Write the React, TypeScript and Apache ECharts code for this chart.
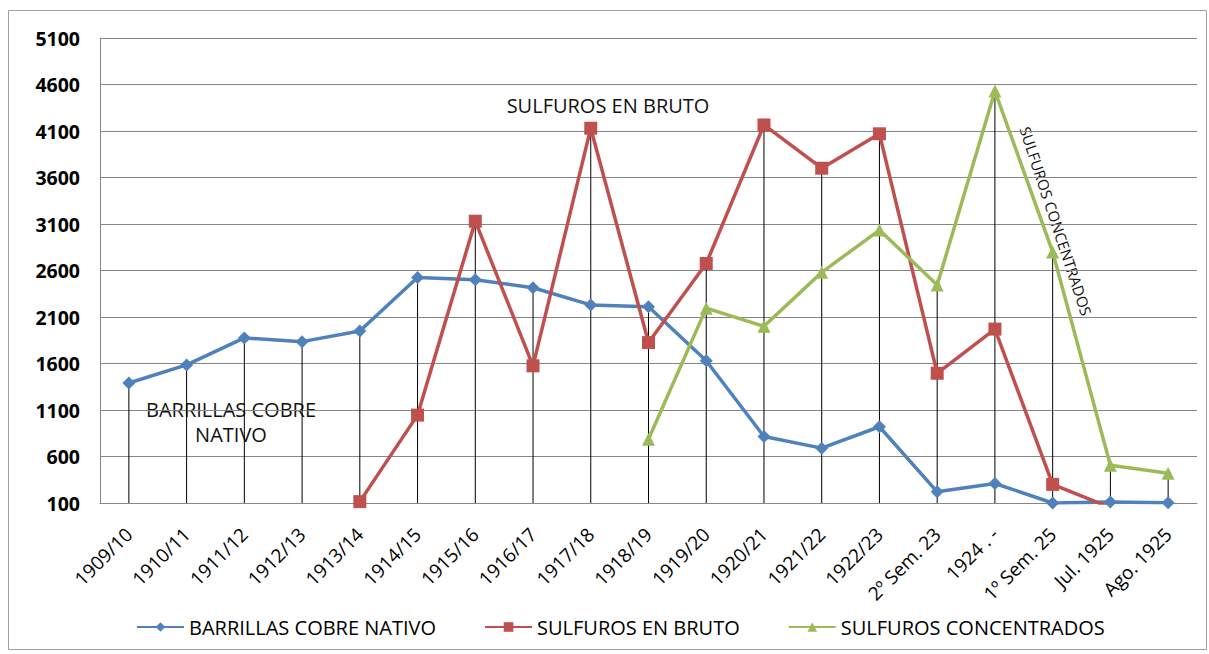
import React, { useEffect, useRef } from "react";
import * as echarts from "echarts";

// Production per campaign (categories along the x axis)
const categories = [
  "1909/10",
  "1910/11",
  "1911/12",
  "1912/13",
  "1913/14",
  "1914/15",
  "1915/16",
  "1916/17",
  "1917/18",
  "1918/19",
  "1919/20",
  "1920/21",
  "1921/22",
  "1922/23",
  "2º Sem. 23",
  "1924 . -",
  "1º Sem. 25",
  "Jul. 1925",
  "Ago. 1925",
];

const barrillasCobreNativo = [
  1390, 1585, 1875, 1835, 1950, 2525, 2500, 2415, 2230, 2210, 1630, 815, 690,
  920, 220, 310, 100, 112, 104,
];

const sulfurosEnBruto = [
  null, null, null, null, 115, 1045, 3130, 1575, 4130, 1825, 2675, 4165, 3700,
  4070, 1495, 1970, 300, 50, null,
];

const sulfurosConcentrados = [
  null, null, null, null, null, null, null, null, null, 785, 2195, 2000, 2580,
  3035, 2445, 4530, 2800, 505, 420,
];

// Value axis tick labels
const yTickLabels = [100, 600, 1100, 1600, 2100, 2600, 3100, 3600, 4100, 4600, 5100];

const FONT = "'Open Sans', 'DejaVu Sans', sans-serif";

export default function App() {
  const ref = useRef<HTMLDivElement>(null);

  useEffect(() => {
    if (!ref.current) return;
    const chart = echarts.init(ref.current, undefined, { renderer: "svg" });

    // Highest value at each category: drop lines run from it down to the axis
    const dropTops = categories.map((_, i) => {
      const vals = [barrillasCobreNativo[i], sulfurosEnBruto[i], sulfurosConcentrados[i]].filter(
        (v) => v !== null && v !== undefined
      ) as number[];
      return [i, Math.max(...vals)];
    });

    const yMin = yTickLabels[0];
    const yMax = yTickLabels[yTickLabels.length - 1];
    const yStep = yTickLabels[1] - yTickLabels[0];

    const annotation = (text: string, x: number, y: number, size: number, rotation = 0) => ({
      type: "text",
      x,
      y,
      rotation,
      silent: true,
      style: {
        text,
        fontFamily: FONT,
        fontSize: size,
        fill: "#111",
        align: "center",
        verticalAlign: "middle",
      },
    });

    chart.setOption({
      animation: false,
      backgroundColor: "#ffffff",
      grid: { left: 100, right: 12, top: 38, bottom: 151, containLabel: false },
      xAxis: {
        type: "category",
        data: categories,
        boundaryGap: true,
        axisLine: { show: true, lineStyle: { color: "#868686", width: 1 } },
        axisTick: { show: false },
        axisLabel: {
          rotate: 45,
          interval: 0,
          margin: 28,
          color: "#000",
          fontFamily: FONT,
          fontSize: 19,
        },
        splitLine: { show: false },
      },
      yAxis: {
        type: "value",
        min: yMin,
        max: yMax,
        interval: yStep,
        axisLine: { show: true, lineStyle: { color: "#868686", width: 1 } },
        axisTick: { show: false },
        axisLabel: {
          margin: 20,
          color: "#000",
          fontFamily: FONT,
          fontWeight: "bold",
          fontSize: 19.5,
          formatter: (v: number) => String(v),
        },
        splitLine: { show: true, lineStyle: { color: "#868686", width: 1 } },
      },
      legend: {
        data: ["BARRILLAS COBRE NATIVO", "SULFUROS EN BRUTO", "SULFUROS CONCENTRADOS"],
        left: 136,
        top: 617,
        padding: 0,
        itemWidth: 47,
        itemHeight: 12,
        itemGap: 48,
        textStyle: { color: "#000", fontFamily: FONT, fontSize: 20 },
      },
      graphic: [
        {
          type: "rect",
          silent: true,
          shape: { x: 8.5, y: 10.5, width: 1198, height: 639 },
          style: { fill: "none", stroke: "#a0a0a0", lineWidth: 1 },
          z: -10,
        },
        annotation("SULFUROS EN BRUTO", 608, 105, 20),
        annotation("BARRILLAS COBRE", 231, 409, 20),
        annotation("NATIVO", 231, 434, 20),
        annotation("SULFUROS CONCENTRADOS", 1056, 221, 15, -1.25),
      ],
      series: [
        {
          name: "drop",
          type: "custom",
          z: 1,
          silent: true,
          data: dropTops,
          renderItem: (_params: any, api: any) => {
            const top = api.coord([api.value(0), api.value(1)]);
            const bottom = api.coord([api.value(0), yMin]);
            return {
              type: "line",
              shape: { x1: top[0], y1: top[1], x2: bottom[0], y2: bottom[1] },
              style: { stroke: "#000", lineWidth: 1 },
            };
          },
        },
        {
          name: "BARRILLAS COBRE NATIVO",
          type: "line",
          z: 3,
          data: barrillasCobreNativo,
          symbol: "diamond",
          symbolSize: 13,
          lineStyle: { color: "#4F81BD", width: 3.5 },
          itemStyle: { color: "#4F81BD" },
        },
        {
          name: "SULFUROS EN BRUTO",
          type: "line",
          z: 4,
          data: sulfurosEnBruto,
          symbol: "rect",
          symbolSize: 13,
          lineStyle: { color: "#C0504D", width: 3.5 },
          itemStyle: { color: "#C0504D" },
        },
        {
          name: "SULFUROS CONCENTRADOS",
          type: "line",
          z: 5,
          data: sulfurosConcentrados,
          symbol: "triangle",
          symbolSize: 13,
          lineStyle: { color: "#9BBB59", width: 3.5 },
          itemStyle: { color: "#9BBB59" },
        },
      ],
    });

    return () => chart.dispose();
  }, []);

  return (
    <div
      ref={ref}
      style={{ position: "absolute", left: 0, top: 0, width: 1209, height: 654 }}
    />
  );
}
